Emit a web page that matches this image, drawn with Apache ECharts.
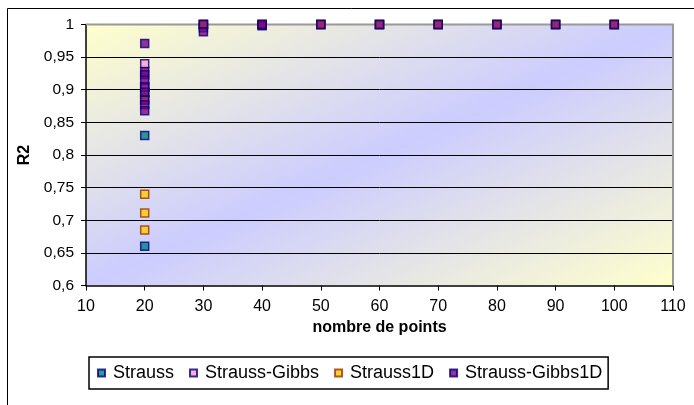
<!DOCTYPE html>
<html>
<head>
<meta charset="utf-8">
<script src="https://cdn.jsdelivr.net/npm/echarts@6/dist/echarts.min.js"></script>
<style>
  html, body { margin: 0; padding: 0; background: #fff; overflow: hidden; }
  #chart { width: 694px; height: 405px; }
</style>
</head>
<body>
<div id="chart"></div>
<script>
// Number of points on the x axis, R2 values on the y axis, one pair of arrays per method
const seriesNames = ['Strauss', 'Strauss-Gibbs', 'Strauss1D', 'Strauss-Gibbs1D'];

const straussX = [20, 20, 20, 30, 30, 40, 50, 60, 70, 80, 90, 100];
const straussY = [0.83, 0.66, 0.895, 1, 0.995, 1, 1, 1, 1, 1, 1, 1];

const straussGibbsX = [20, 20, 30, 40, 50, 60, 70, 80, 90, 100];
const straussGibbsY = [0.94, 0.905, 1, 1, 1, 1, 1, 1, 1, 1];

const strauss1DX = [20, 20, 20, 20, 30, 40, 50, 60, 70, 80, 90, 100];
const strauss1DY = [0.74, 0.711, 0.685, 0.885, 1.0, 1, 1, 1, 1, 1, 1, 1];

const straussGibbs1DX = [20, 20, 20, 20, 20, 20, 20, 20, 20, 30, 30, 40, 40, 50, 60, 70, 80, 90, 100];
const straussGibbs1DY = [0.971, 0.928, 0.923, 0.914, 0.904, 0.896, 0.884, 0.877, 0.868, 1, 0.989, 0.998, 1, 1, 1, 1, 1, 1, 1];

const xTicks = { min: 10, max: 110, step: 10 };
const yTicks = { min: 0.6, max: 1, step: 0.05 };

const FONT = '"Liberation Sans", Arial, sans-serif';

function pairs(xs, ys) {
  return xs.map((x, i) => [x, ys[i]]);
}

const markerStyles = [
  { color: '#008080', borderColor: '#000080' },
  { color: '#FF99CC', borderColor: '#000080' },
  { color: '#FFCC00', borderColor: '#993300' },
  { color: '#800080', borderColor: '#000080' }
];
const seriesData = [
  pairs(straussX, straussY),
  pairs(straussGibbsX, straussGibbsY),
  pairs(strauss1DX, strauss1DY),
  pairs(straussGibbs1DX, straussGibbs1DY)
];

// Plot area placement
const W = 694, H = 405;
const plot = { left: 86, top: 24.5, right: 21, bottom: 119.5 };
const pw = W - plot.left - plot.right;
const ph = H - plot.top - plot.bottom;

// Two-colour diagonal fill: yellow in the top-left and bottom-right corners,
// lavender along the bottom-left -> top-right diagonal.
const d2 = pw * pw + ph * ph;
const plotFill = new echarts.graphic.LinearGradient(0, 0, 2 * ph * ph / d2, 2 * pw * pw / d2, [
  { offset: 0, color: '#FFFFCC' },
  { offset: 0.5, color: '#CCCCFF' },
  { offset: 1, color: '#FFFFCC' }
]);

const chart = echarts.init(document.getElementById('chart'), null, { renderer: 'canvas' });

const option = {
  animation: false,
  backgroundColor: '#ffffff',
  textStyle: { fontFamily: FONT },
  grid: {
    left: plot.left, top: plot.top, right: plot.right, bottom: plot.bottom,
    show: true,
    borderWidth: 0,
    backgroundColor: plotFill
  },
  xAxis: {
    type: 'value',
    min: xTicks.min, max: xTicks.max, interval: xTicks.step,
    name: 'nombre de points',
    nameLocation: 'middle',
    nameGap: 30,
    nameTextStyle: { fontFamily: FONT, fontSize: 16, fontWeight: 'bold', color: '#000' },
    axisLine: { show: true, onZero: false, lineStyle: { color: '#000', width: 1.5 } },
    axisTick: { show: true, inside: false, length: 5, lineStyle: { color: '#000', width: 1 } },
    axisLabel: { fontFamily: FONT, fontSize: 16, color: '#000', margin: 13 },
    splitLine: { show: false }
  },
  yAxis: {
    type: 'value',
    min: yTicks.min, max: yTicks.max, interval: yTicks.step,
    name: 'R2',
    nameLocation: 'middle',
    nameGap: 53,
    nameRotate: 90,
    nameTextStyle: { fontFamily: FONT, fontSize: 16, fontWeight: 'bold', color: '#000' },
    axisLine: { show: true, onZero: false, lineStyle: { color: '#000', width: 1.5 } },
    axisTick: { show: true, inside: false, length: 5, lineStyle: { color: '#000', width: 1 } },
    axisLabel: {
      fontFamily: FONT, fontSize: 15.5, color: '#000', margin: 12,
      formatter: v => String(+v.toFixed(2)).replace('.', ',')
    },
    splitLine: { show: true, showMaxLine: false, showMinLine: false, lineStyle: { color: '#000', width: 1 } }
  },
  legend: {
    data: seriesNames,
    left: 89, top: 357,
    orient: 'horizontal',
    padding: [7, 6, 7, 8],
    itemGap: 15,
    itemWidth: 7,
    itemHeight: 7,
    icon: 'rect',
    borderColor: '#000',
    borderWidth: 1.5,
    backgroundColor: '#fff',
    textStyle: { fontFamily: FONT, fontSize: 18, color: '#000', padding: [0, 0, 0, 3] }
  },
  series: seriesNames.map((name, i) => ({
    name,
    type: 'scatter',
    symbol: 'rect',
    symbolSize: 8,
    data: seriesData[i],
    itemStyle: {
      color: markerStyles[i].color,
      borderColor: markerStyles[i].borderColor,
      borderWidth: 1.5
    },
    z: 3 + i
  }))
};

chart.setOption(option);

// Frame of the chart area (its right and bottom edges run past the page),
// plus the grey top/right edges of the plot area
const tl = chart.convertToPixel({ gridIndex: 0 }, [xTicks.min, yTicks.max]);
const br = chart.convertToPixel({ gridIndex: 0 }, [xTicks.max, yTicks.min]);
chart.setOption({
  graphic: [
    {
      type: 'polyline',
      shape: { points: [[7.5, H + 5], [7.5, 8.5], [W + 5, 8.5]] },
      style: { fill: 'none', stroke: '#000', lineWidth: 1 },
      silent: true, z: 0
    },
    {
      type: 'polyline',
      shape: { points: [[tl[0], tl[1]], [br[0], tl[1]], [br[0], br[1]]] },
      style: { fill: 'none', stroke: '#999999', lineWidth: 2 },
      silent: true, z: 2
    }
  ]
});
</script>
</body>
</html>
